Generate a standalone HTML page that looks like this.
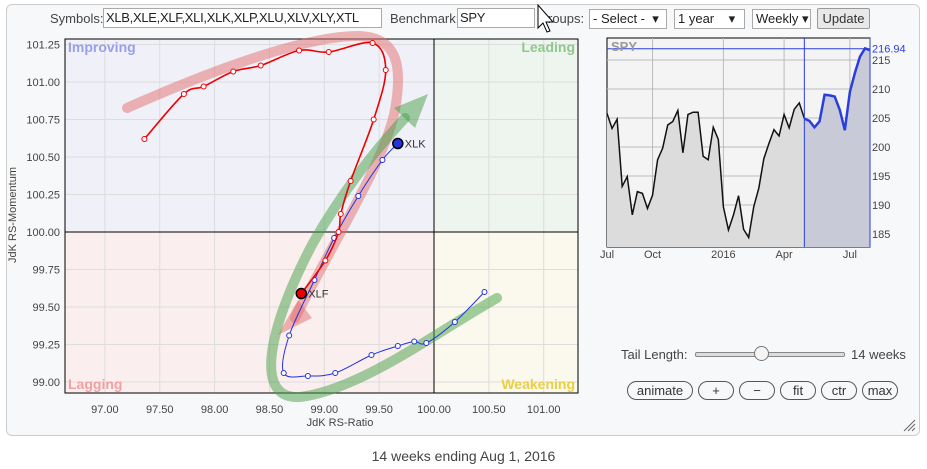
<!DOCTYPE html>
<html><head><meta charset="utf-8"><style>
body{margin:0;width:927px;height:469px;background:#fff;font-family:"Liberation Sans",sans-serif;overflow:hidden;position:relative}
.abs{position:absolute}
.inp{position:absolute;border:1px solid #aaa;background:#fff;font-size:13px;line-height:18px;padding-left:2px;box-sizing:border-box;height:20px;color:#222;letter-spacing:-0.3px}
.lbl{position:absolute;font-size:13px;color:#444;top:11px}
.sel{position:absolute;border:1px solid #aaa;background:#fff;font-size:13px;height:20px;box-sizing:border-box;padding-left:3px;line-height:18px;color:#222}
.btn{position:absolute;top:381px;height:19px;border:1px solid #555;border-radius:10px;box-sizing:border-box;font-size:13px;text-align:center;line-height:17px;color:#333;background:#f7f8fa}
</style></head><body>
<div class="abs" style="left:6px;top:4px;width:912px;height:430px;border:1px solid #ccc;border-radius:6px;background:#f7f8fa"></div>
<span class="lbl" style="left:50px">Symbols:</span>
<div class="inp" style="left:103px;top:8px;width:279px">XLB,XLE,XLF,XLI,XLK,XLP,XLU,XLV,XLY,XTL</div>
<span class="lbl" style="left:390px">Benchmark:</span>
<div class="inp" style="left:457px;top:8px;width:78px">SPY</div>
<span class="lbl" style="left:548px">roups:</span>
<div class="sel" style="left:589px;top:9px;width:78px">- Select - &nbsp;▾</div>
<div class="sel" style="left:674px;top:9px;width:71px">1 year &nbsp; &nbsp;▾</div>
<div class="sel" style="left:752px;top:9px;width:59px">Weekly ▾</div>
<div class="abs" style="left:817px;top:8px;width:53px;height:21px;border:1px solid #999;border-radius:2px;background:#e8e8e8;font-size:13px;text-align:center;line-height:19px;box-sizing:border-box;color:#333">Update</div>
<svg class="abs" style="left:536px;top:4px" width="20" height="30"><path d="M2 1 L2 24 L7 19 L11 28 L14 27 L10 18 L17 18 Z" fill="#fff" stroke="#000" stroke-width="1"/></svg>

<svg id="rrg" class="abs" style="left:0;top:0" width="927" height="469"></svg>

<span class="abs" style="left:621px;top:347px;font-size:13px;color:#444">Tail Length:</span>
<div class="abs" style="left:695px;top:352px;width:148px;height:3px;border:1px solid #888;border-radius:2px;background:#ddd"></div>
<div class="abs" style="left:754px;top:346px;width:13px;height:13px;border:1px solid #777;border-radius:50%;background:#f4f4f4"></div>
<span class="abs" style="left:851px;top:347px;font-size:13px;color:#444">14 weeks</span>
<div class="btn" style="left:627px;width:66px">animate</div>
<div class="btn" style="left:698px;width:36px">+</div>
<div class="btn" style="left:739px;width:36px">−</div>
<div class="btn" style="left:780px;width:36px">fit</div>
<div class="btn" style="left:821px;width:36px">ctr</div>
<div class="btn" style="left:862px;width:36px">max</div>
<svg class="abs" style="left:902px;top:418px" width="14" height="14"><path d="M2 13 L13 2 M6 13 L13 6 M10 13 L13 10" stroke="#666" stroke-width="1"/></svg>
<div class="abs" style="left:0;width:927px;top:448px;text-align:center;font-size:14px;color:#444">14 weeks ending Aug 1, 2016</div>

<script>
const xlfRatio=[97.36,97.72,97.90,98.17,98.42,98.77,99.04,99.44,99.56,99.45,99.24,99.15,99.13,99.01,98.79];
const xlfMomentum=[100.62,100.92,100.97,101.07,101.11,101.21,101.20,101.26,101.08,100.75,100.34,100.12,100.00,99.81,99.59];
const xlkRatio=[100.46,100.19,99.93,99.82,99.67,99.43,99.10,98.85,98.63,98.68,98.91,99.09,99.31,99.53,99.67];
const xlkMomentum=[99.60,99.40,99.26,99.27,99.24,99.18,99.06,99.04,99.06,99.31,99.68,99.96,100.24,100.48,100.59];
const xTicks=[97,97.5,98,98.5,99,99.5,100,100.5,101];
const yTicks=[99,99.25,99.5,99.75,100,100.25,100.5,100.75,101,101.25];
const spyHistory=[205.8,203.2,204.8,193.2,194.9,188.3,192.3,192.0,189.4,191.7,197.8,199.8,203.8,204.4,206.3,199.0,205.6,206.0,206.0,198.4,197.8,203.4,201.3,189.7,185.7,188.3,191.6,185.8,184.4,189.7,192.9,198.0,200.6,203.0,201.9,205.6,203.3,206.5,207.6,204.9];
const spyTail=[204.5,203.4,204.4,209.0,208.9,208.7,206.4,202.9,209.5,212.8,215.6,217.0,216.7];
const spyTicks=[185,190,195,200,205,210,215];
const spyMonths=["Jul","Oct","2016","Apr","Jul"];
const spyMonthIdx=[-1.2,9,23,35,48];

const NS="http://www.w3.org/2000/svg";
const svg=document.getElementById('rrg');
function mk(t,a,parent){const e=document.createElementNS(NS,t);for(const k in a)e.setAttribute(k,a[k]);(parent||svg).appendChild(e);return e;}
const L=65,R=578,T=39,B=393;
const xs=v=>434+(v-100)*109.7;
const ys=v=>232-(v-100)*150;
function smooth(pts){let d="M"+pts[0][0]+" "+pts[0][1];for(let i=0;i<pts.length-1;i++){const p0=pts[i-1]||pts[i],p1=pts[i],p2=pts[i+1],p3=pts[i+2]||p2;d+=" C"+(p1[0]+(p2[0]-p0[0])/6)+" "+(p1[1]+(p2[1]-p0[1])/6)+" "+(p2[0]-(p3[0]-p1[0])/6)+" "+(p2[1]-(p3[1]-p1[1])/6)+" "+p2[0]+" "+p2[1];}return d;}
// quadrants
let q;
q=mk('rect',{x:L,y:T,width:434-L,height:232-T,fill:'#f0f0f8'});
q=mk('rect',{x:434,y:T,width:R-434,height:232-T,fill:'#eef4ee'});
q=mk('rect',{x:L,y:232,width:434-L,height:B-232,fill:'#fbeeee'});
q=mk('rect',{x:434,y:232,width:R-434,height:B-232,fill:'#fbf8ee'});
xTicks.forEach(v=>{const X=xs(v);
 let g=mk('line',{x1:X,x2:X,y1:T,y2:B,stroke:'#ddd'});
 let t=mk('text',{x:X,y:413,'text-anchor':'middle','font-size':11,fill:'#444'});t.textContent=v.toFixed(2);});
yTicks.forEach(v=>{const Y=ys(v);
 let g=mk('line',{x1:L,x2:R,y1:Y,y2:Y,stroke:'#ddd'});
 let t=mk('text',{x:60,y:Y+4,'text-anchor':'end','font-size':11,fill:'#444'});t.textContent=v.toFixed(2);});
let a=mk('line',{x1:xs(100),x2:xs(100),y1:T,y2:B,stroke:'#000'});
a=mk('line',{x1:L,x2:R,y1:ys(100),y2:ys(100),stroke:'#000'});
a=mk('rect',{x:L,y:T,width:R-L,height:B-T,fill:'none',stroke:'#000'});
const ql=[["Improving",68,52,'start','#9aa0e8','improving-label'],["Leading",575,52,'end','#8ec88e','leading-label'],["Lagging",68,389,'start','#f2a0a0','lagging-label'],["Weakening",575,389,'end','#ead040','weakening-label']];
ql.forEach(o=>{let t=mk('text',{x:o[1],y:o[2],'text-anchor':o[3],'font-size':14,'font-weight':'bold',fill:o[4]});t.textContent=o[0];});
let t=mk('text',{x:340,y:426,'text-anchor':'middle','font-size':11,fill:'#444'});t.textContent="JdK RS-Ratio";
t=mk('text',{x:0,y:0,'text-anchor':'middle','font-size':11,fill:'#444',transform:'translate(16,215) rotate(-90)'});t.textContent="JdK RS-Momentum";
// annotation arrows
let p=mk('path',{d:'M127 108 C190 80 300 35 360 36 C400 38 402 70 395 110 C385 160 340 230 295 318',fill:'none',stroke:'rgba(225,110,110,0.5)','stroke-width':10,'stroke-linecap':'round'});
p=mk('path',{d:'M278 335 L298 300 L312 318 Z',fill:'rgba(225,110,110,0.5)'});
p=mk('path',{d:'M497 298 C440 330 360 390 300 397 C250 400 272 320 313 243 C340 195 375 150 405 118',fill:'none',stroke:'rgba(70,160,70,0.5)','stroke-width':10,'stroke-linecap':'round'});
p=mk('path',{d:'M428 94 L394 108 L415 128 Z',fill:'rgba(70,160,70,0.5)'});
function series(rx,my,col,w,name){
 const pts=rx.map((v,i)=>[xs(v),ys(my[i])]);
 let l=mk('path',{d:smooth(pts),fill:'none',stroke:col,'stroke-width':w});
 pts.forEach((pt,i)=>{if(i===pts.length-1){let c=mk('circle',{cx:pt[0],cy:pt[1],r:5,fill:col,stroke:'#000','stroke-width':1.5});
   let tx=mk('text',{x:pt[0]+7,y:pt[1]+4,'font-size':11,fill:'#333'});tx.textContent=name.toUpperCase();}
  else{let c=mk('circle',{cx:pt[0],cy:pt[1],r:2.5,fill:'#fff',stroke:col,'stroke-width':1});}});
}
series(xlkRatio,xlkMomentum,'#2233dd',1,'xlk');
series(xlfRatio,xlfMomentum,'#ee0000',1.6,'xlf');
// SPY panel
const SL=607,SR=870,ST=38,SB=247;
const sx=i=>SL+i*5.06;
const sy=v=>234-(v-185)*5.8;
a=mk('rect',{x:SL,y:ST,width:SR-SL,height:SB-ST,fill:'#f4f4f4',stroke:'#000'});
spyTicks.forEach(v=>{let g=mk('line',{x1:SL,x2:SR,y1:sy(v),y2:sy(v),stroke:'#bbb'});
 let tt=mk('text',{x:872,y:sy(v)+4,'font-size':11,fill:'#444'});tt.textContent=v;});
spyMonths.forEach((m,i)=>{const X=sx(spyMonthIdx[i]);if(i>0){let g=mk('line',{x1:X,x2:X,y1:ST,y2:SB,stroke:'#bbb'});}
 let tt=mk('text',{x:Math.max(X,607),y:258,'text-anchor':'middle','font-size':11,fill:'#444'});tt.textContent=m;});
const all=spyHistory.concat(spyTail);const n0=spyHistory.length-1;
let dArea="M"+sx(0)+" "+SB;all.forEach((v,i)=>dArea+=" L"+sx(i)+" "+sy(v));dArea+=" L"+sx(all.length-1)+" "+SB+" Z";
a=mk('path',{d:dArea,fill:'#dcdcdc'});
let dt="M"+sx(n0)+" "+SB;for(let i=n0;i<all.length;i++)dt+=" L"+sx(i)+" "+sy(all[i]);dt+=" L"+sx(all.length-1)+" "+SB+" Z";
a=mk('path',{d:dt,fill:'#c8cad8'});
a=mk('polyline',{points:spyHistory.map((v,i)=>sx(i)+","+sy(v)).join(" "),fill:'none',stroke:'#111','stroke-width':1.5});
a=mk('polyline',{points:all.slice(n0).map((v,i)=>sx(i+n0)+","+sy(v)).join(" "),fill:'none',stroke:'#2a3ee0','stroke-width':2.5});
a=mk('line',{x1:sx(n0),x2:sx(n0),y1:ST,y2:SB,stroke:'#2a3ee0'});
const last=216.94;
a=mk('line',{x1:SL,x2:SR,y1:sy(last),y2:sy(last),stroke:'#2a3ee0'});
a=mk('line',{x1:SR,x2:SR,y1:ST,y2:SB,stroke:'#2a3ee0'});
t=mk('text',{x:872,y:sy(last)+4,'font-size':11,fill:'#2a3ee0'});t.textContent=last.toFixed(2);
t=mk('text',{x:611,y:51,'font-size':13,'font-weight':'bold',fill:'#999'});t.textContent="SPY";
</script>
</body></html>
